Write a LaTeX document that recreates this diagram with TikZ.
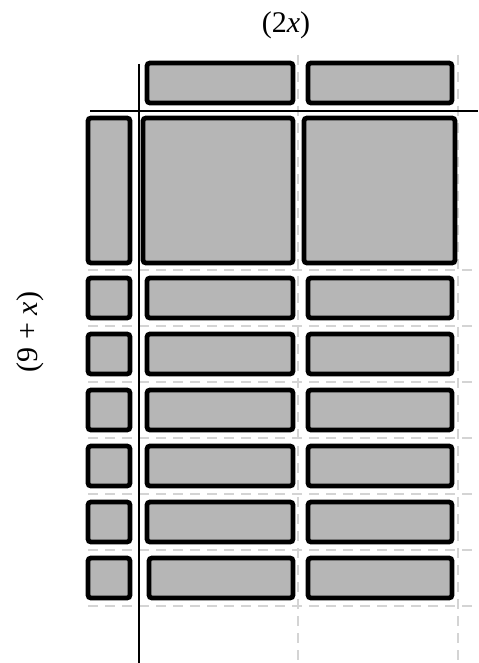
\documentclass[tikz,border=0pt]{standalone}
\usepackage{fontspec}
\setmainfont{Liberation Serif}
\definecolor{tilegray}{RGB}{182,182,182}
\definecolor{gridgray}{RGB}{212,212,212}
\tikzset{
  tile/.style={draw=black,fill=tilegray,line width=2.4pt,rounded corners=1.5pt},
  guide/.style={draw=gridgray,line width=1.3pt,dash pattern=on 5pt off 3.5pt},
  axis/.style={draw=black,line width=1pt},
  factor/.style={font=\fontsize{15}{18}\selectfont,inner sep=0pt}
}
\begin{document}
\begin{tikzpicture}[x=0.5pt,y=-0.5pt]
\useasboundingbox (0,0) rectangle (478,663);

% dashed cell lines
\draw[guide] (298,55) -- (298,663);
\draw[guide] (458,55) -- (458,663);
\foreach \y in {270,326,382,438,494,550,606}
  \draw[guide] (88,\y) -- (478,\y);

% top row
\draw[tile] (147,63) rectangle (293,103);
\draw[tile] (308,63) rectangle (452,103);

% big row
\draw[tile] (88,118) rectangle (130,263);
\draw[tile] (143,118) rectangle (293,263);
\draw[tile] (304,118) rectangle (455,263);

% unit rows
\draw[tile] (88,278) rectangle (130,318);
\draw[tile] (147,278) rectangle (293,318);
\draw[tile] (308,278) rectangle (452,318);

\draw[tile] (88,334) rectangle (130,374);
\draw[tile] (147,334) rectangle (293,374);
\draw[tile] (308,334) rectangle (452,374);

\draw[tile] (88,390) rectangle (130,430);
\draw[tile] (147,390) rectangle (293,430);
\draw[tile] (308,390) rectangle (452,430);

\draw[tile] (88,446) rectangle (130,486);
\draw[tile] (147,446) rectangle (293,486);
\draw[tile] (308,446) rectangle (452,486);

\draw[tile] (88,502) rectangle (130,542);
\draw[tile] (147,502) rectangle (293,542);
\draw[tile] (308,502) rectangle (452,542);

\draw[tile] (88,558) rectangle (130,598);
\draw[tile] (149,558) rectangle (293,598);
\draw[tile] (308,558) rectangle (452,598);

% axes
\coordinate (hl) at (90,111);
\coordinate (hr) at (478,111);
\coordinate (vt) at (139,64);
\coordinate (vb) at (139,663);
\draw[axis] (hl) -- (hr);
\draw[axis] (vt) -- (vb);

% factor labels
\node[factor] (width) at (286,25) {(2\textit{x})};
\node[factor,rotate=90] (height) at (30,332) {(9 + \textit{x})};
\end{tikzpicture}
\end{document}
